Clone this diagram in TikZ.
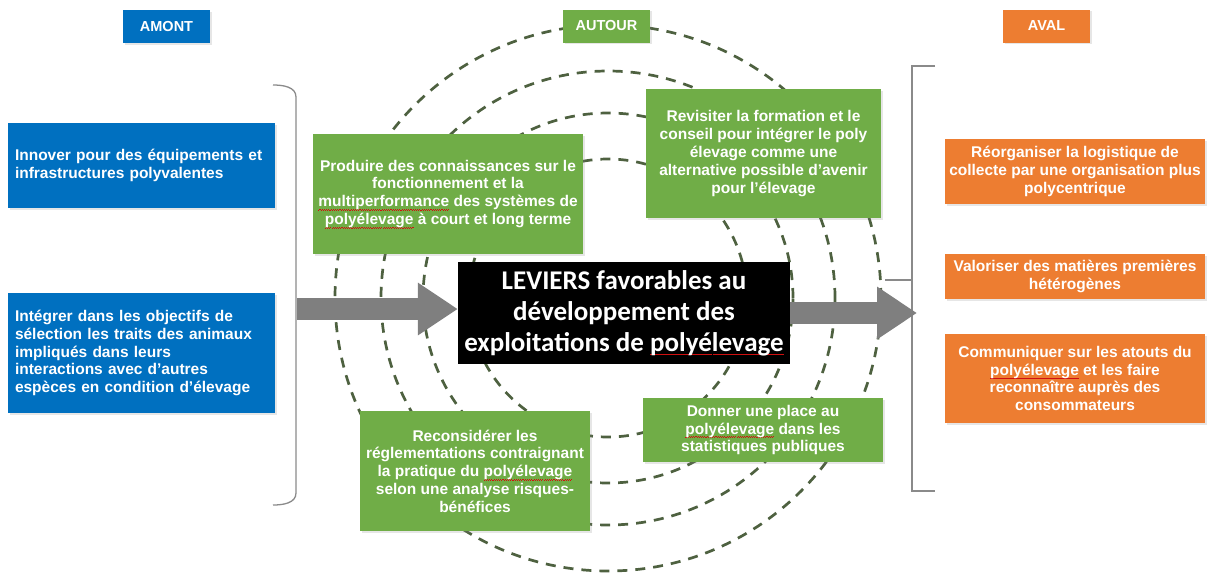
\documentclass[tikz,border=0pt]{standalone}
\usepackage{fontspec}
\setmainfont{Liberation Sans}
\newfontfamily\calibri{Carlito}
\usetikzlibrary{arrows.meta, positioning, shadows}
\definecolor{amont}{HTML}{0070C0}
\definecolor{autour}{HTML}{70AD47}
\definecolor{aval}{HTML}{ED7D31}
\definecolor{fleche}{HTML}{7F7F7F}
\definecolor{anneau}{HTML}{4E6140}
\definecolor{crochet}{HTML}{8A8A8A}
\definecolor{soulign}{HTML}{D01010}
% mot souligne en rouge (correcteur)
\newsavebox\motbox
\newcommand\fautif[1]{\sbox\motbox{#1}\rlap{\textcolor{soulign}{\hbox to \wd\motbox{\xleaders\hbox{\rule[-3.7pt]{1.1pt}{0.6pt}\rule[-3pt]{1.1pt}{0.6pt}}\hfill}}}#1}

\begin{document}
\begin{tikzpicture}[x=1pt, y=-1pt,
  boite/.style={inner sep=2pt, text=white, align=center,
    font=\fontsize{15.5}{17.8}\selectfont\bfseries,
    drop shadow={opacity=0.2, shadow xshift=1.5pt, shadow yshift=-1.5pt}},
  entete/.style={boite, minimum width=87pt, minimum height=33pt,
    font=\fontsize{14.5}{16}\selectfont\bfseries},
  bleu/.style={boite, fill=amont, minimum width=267pt, text width=253pt, align=left},
  vert/.style={boite, fill=autour},
  orange/.style={boite, fill=aval, minimum width=260pt},
  cercle/.style={anneau, line width=2.7pt, dash pattern=on 10pt off 8pt},
  grosse/.style={fleche, line width=22pt, -{Triangle[length=40pt, width=50pt]}},
  bord/.style={crochet, line width=1.3pt}
]
  \useasboundingbox (0,0) rectangle (1209,576);
  % Cercles pointilles autour du centre
  \foreach \r in {273, 227, 185, 139}
    \draw[cercle] (608,298) circle (\r pt);

  % Titres
  \node[entete, fill=amont] (amont) at (166.5,26.5) {AMONT};
  \node[entete, fill=autour] (autour) at (606.5,26) {AUTOUR};
  \node[entete, fill=aval] (aval) at (1046.5,26) {AVAL};

  % Amont
  \node[bleu, minimum height=85pt] (innover) at (141.5,165.5)
    {Innover pour des équipements et\\ infrastructures polyvalentes};
  \node[bleu, minimum height=120pt] (integrer) at (141.5,353)
    {Intégrer dans les objectifs de\\ sélection les traits des animaux\\
     impliqués dans leurs\\ interactions avec d’autres\\
     espèces en condition d’élevage};

  % Autour
  \node[vert, minimum width=270pt, minimum height=120pt] (produire) at (448,194)
    {Produire des connaissances sur le\\ fonctionnement et la\\
     \fautif{multiperformance} des systèmes de\\
     \fautif{polyélevage} à court et long terme};
  \node[vert, minimum width=235pt, minimum height=129pt] (revisiter) at (763.5,153.5)
    {Revisiter la formation et le\\ conseil pour intégrer le poly\\
     élevage comme une\\ alternative possible d’avenir\\ pour l’élevage};
  \node[vert, minimum width=230pt, minimum height=120pt] (reconsiderer) at (475,471)
    {Reconsidérer les\\ réglementations contraignant\\
     la pratique du \fautif{polyélevage}\\ selon une analyse risques-\\ bénéfices};
  \node[vert, minimum width=240pt, minimum height=64pt] (donner) at (763,430)
    {Donner une place au\\ \fautif{polyélevage} dans les\\ statistiques publiques};

  % Aval
  \node[orange, minimum height=65pt] (reorganiser) at (1075,171.5)
    {Réorganiser la logistique de\\ collecte par une organisation plus\\ polycentrique};
  \node[orange, minimum height=45pt] (valoriser) at (1075,276.5)
    {Valoriser des matières premières\\ hétérogènes};
  \node[orange, minimum height=89pt] (communiquer) at (1075,378.5)
    {Communiquer sur les atouts du\\ \fautif{polyélevage} et les faire\\
     reconnaître auprès des\\ consommateurs};

  % Centre
  \node[fill=black, text=white, align=center, inner sep=2pt,
        font=\fontsize{27}{31}\calibri\bfseries,
        minimum width=332pt, minimum height=102pt] (leviers) at (624,313)
    {LEVIERS favorables au\\ développement des\\ exploitations de \fautif{polyélevage}};

  % Accolades
  \draw[bord] (273,85) to[out=0, in=90] (296,97) -- (296,493)
    to[out=-90, in=0] (273,505);
  \draw[bord] (935,66) -- (912,66) -- (912,491) -- (935,491);
  \draw[bord] (885,280) -- (912,280);

  % Fleches
  \coordinate (gauche) at (297,309);
  \coordinate (droite) at (917,313);
  \draw[grosse] (gauche) -- (gauche -| leviers.west);
  \draw[grosse] (leviers.east) -- (droite);
\end{tikzpicture}
\end{document}
